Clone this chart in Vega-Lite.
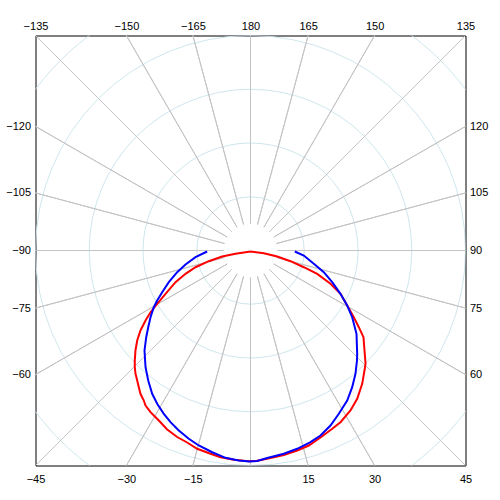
{
  "$schema": "https://vega.github.io/schema/vega-lite/v6.json",
  "width": 430,
  "height": 430,
  "autosize": {"type": "none"},
  "padding": {"left": 35.5, "top": 35.5, "right": 34.5, "bottom": 34.5},
  "background": "white",
  "config": {
    "view": {"stroke": "black", "strokeWidth": 1},
    "axis": {"labelFont": "Liberation Sans", "labelFontSize": 11, "labelColor": "black", "domain": false, "ticks": false, "grid": false, "title": null, "labelFlush": false, "labelOverlap": false, "labelBound": false}
  },
  "datasets": {
    "rings": [{"r": 10}, {"r": 20}, {"r": 30}, {"r": 40}, {"r": 50}],
    "rays": [{"a": -165}, {"a": -150}, {"a": -135}, {"a": -120}, {"a": -105}, {"a": -90}, {"a": -75}, {"a": -60}, {"a": -45}, {"a": -30}, {"a": -15}, {"a": 0}, {"a": 15}, {"a": 30}, {"a": 45}, {"a": 60}, {"a": 75}, {"a": 90}, {"a": 105}, {"a": 120}, {"a": 135}, {"a": 150}, {"a": 165}, {"a": 180}],
    "red": [
      {"i": 0, "x": 0, "y": -0.19}, {"i": 1, "x": -2.79, "y": -0.61}, {"i": 2, "x": -5.27, "y": -1.12}, {"i": 3, "x": -7.76, "y": -1.99},
      {"i": 4, "x": -10.23, "y": -3.11}, {"i": 5, "x": -12.09, "y": -4.34}, {"i": 6, "x": -13.95, "y": -5.9}, {"i": 7, "x": -15.81, "y": -8.06},
      {"i": 8, "x": -17.36, "y": -9.92}, {"i": 9, "x": -18.6, "y": -11.48}, {"i": 10, "x": -19.53, "y": -13.02}, {"i": 11, "x": -20.47, "y": -14.88},
      {"i": 12, "x": -21.08, "y": -16.74}, {"i": 13, "x": -21.4, "y": -18.6}, {"i": 14, "x": -21.53, "y": -20.47}, {"i": 15, "x": -21.53, "y": -21.71},
      {"i": 16, "x": -21.4, "y": -22.88}, {"i": 17, "x": -21.08, "y": -24.19}, {"i": 18, "x": -20.78, "y": -25.43}, {"i": 19, "x": -20.47, "y": -26.66},
      {"i": 20, "x": -19.85, "y": -27.91}, {"i": 21, "x": -19.53, "y": -28.84}, {"i": 22, "x": -18.6, "y": -30.08}, {"i": 23, "x": -17.06, "y": -31.63},
      {"i": 24, "x": -15.5, "y": -33.3}, {"i": 25, "x": -13.64, "y": -34.7}, {"i": 26, "x": -11.78, "y": -35.72}, {"i": 27, "x": -9.92, "y": -36.89},
      {"i": 28, "x": -7.44, "y": -37.82}, {"i": 29, "x": -5.58, "y": -38.46}, {"i": 30, "x": -3.11, "y": -38.94}, {"i": 31, "x": -0.32, "y": -39.2},
      {"i": 32, "x": 1.25, "y": -39.13}, {"i": 33, "x": 3.72, "y": -38.6}, {"i": 34, "x": 6.2, "y": -38.05}, {"i": 35, "x": 8.69, "y": -37.21},
      {"i": 36, "x": 10.85, "y": -36.28}, {"i": 37, "x": 13.02, "y": -34.79}, {"i": 38, "x": 15.2, "y": -33.17}, {"i": 39, "x": 16.74, "y": -31.94},
      {"i": 40, "x": 18.6, "y": -29.77}, {"i": 41, "x": 19.85, "y": -27.59}, {"i": 42, "x": 20.78, "y": -24.8}, {"i": 43, "x": 21.21, "y": -22.33},
      {"i": 44, "x": 21.4, "y": -21.02}, {"i": 45, "x": 21.21, "y": -18.6}, {"i": 46, "x": 21.02, "y": -16.13}, {"i": 47, "x": 20.15, "y": -14.27},
      {"i": 48, "x": 19.22, "y": -12.41}, {"i": 49, "x": 17.99, "y": -10.23}, {"i": 50, "x": 16.74, "y": -8.06}, {"i": 51, "x": 14.88, "y": -6.2},
      {"i": 52, "x": 12.41, "y": -4.34}, {"i": 53, "x": 9.92, "y": -3.11}, {"i": 54, "x": 7.44, "y": -1.99}, {"i": 55, "x": 4.97, "y": -1.12},
      {"i": 56, "x": 2.47, "y": -0.5}, {"i": 57, "x": 0, "y": -0.19}
    ],
    "blue": [
      {"i": 0, "x": -8.06, "y": -0.19}, {"i": 1, "x": -10.23, "y": -1.25}, {"i": 2, "x": -12.09, "y": -2.6}, {"i": 3, "x": -13.64, "y": -4.04},
      {"i": 4, "x": -15.2, "y": -5.9}, {"i": 5, "x": -16.43, "y": -7.76}, {"i": 6, "x": -17.36, "y": -9.3}, {"i": 7, "x": -17.99, "y": -10.55},
      {"i": 8, "x": -18.6, "y": -12.41}, {"i": 9, "x": -19.03, "y": -14.27}, {"i": 10, "x": -19.4, "y": -16.13}, {"i": 11, "x": -19.72, "y": -18.6},
      {"i": 12, "x": -19.53, "y": -21.71}, {"i": 13, "x": -19.03, "y": -24.19}, {"i": 14, "x": -18.29, "y": -26.66}, {"i": 15, "x": -17.36, "y": -28.52},
      {"i": 16, "x": -16.13, "y": -30.38}, {"i": 17, "x": -14.88, "y": -31.94}, {"i": 18, "x": -13.34, "y": -33.49}, {"i": 19, "x": -11.48, "y": -35.03},
      {"i": 20, "x": -9.62, "y": -36.28}, {"i": 21, "x": -7.13, "y": -37.53}, {"i": 22, "x": -4.65, "y": -38.57}, {"i": 23, "x": -2.18, "y": -39.07},
      {"i": 24, "x": -0.19, "y": -39.24}, {"i": 25, "x": 1.25, "y": -39.16}, {"i": 26, "x": 3.11, "y": -38.6}, {"i": 27, "x": 6.2, "y": -37.82},
      {"i": 28, "x": 8.69, "y": -36.89}, {"i": 29, "x": 11.16, "y": -35.66}, {"i": 30, "x": 13.02, "y": -34.42}, {"i": 31, "x": 14.88, "y": -32.56},
      {"i": 32, "x": 16.43, "y": -30.38}, {"i": 33, "x": 17.99, "y": -27.91}, {"i": 34, "x": 18.92, "y": -25.43}, {"i": 35, "x": 19.53, "y": -22.94},
      {"i": 36, "x": 19.81, "y": -20.47}, {"i": 37, "x": 19.85, "y": -19.22}, {"i": 38, "x": 19.72, "y": -15.5}, {"i": 39, "x": 18.92, "y": -12.41},
      {"i": 40, "x": 17.99, "y": -10.23}, {"i": 41, "x": 16.74, "y": -8.06}, {"i": 42, "x": 15.2, "y": -5.9}, {"i": 43, "x": 13.64, "y": -4.04},
      {"i": 44, "x": 11.78, "y": -2.47}, {"i": 45, "x": 9.92, "y": -0.93}, {"i": 46, "x": 8.24, "y": -0.19}
    ]
  },
  "layer": [
    {
      "data": {"name": "rings"},
      "mark": {"type": "arc", "filled": false, "stroke": "#cfe6ee", "strokeWidth": 1, "theta": 0, "theta2": 6.2832, "clip": true},
      "encoding": {
        "radius": {"field": "r", "type": "quantitative", "stack": null, "scale": {"type": "linear", "domain": [0, 40], "range": [0, 215], "zero": true}}
      }
    },
    {
      "data": {"name": "rays"},
      "mark": {"type": "arc", "filled": false, "stroke": "#c4c4c4", "strokeWidth": 1, "clip": true},
      "encoding": {
        "theta": {"field": "a", "type": "quantitative", "stack": null, "scale": {"domain": [180, -180], "range": [0, 6.283185307]}},
        "theta2": {"field": "a"},
        "radius": {"datum": 60, "type": "quantitative", "scale": {"type": "linear", "domain": [0, 40], "range": [0, 215], "zero": true}},
        "radius2": {"datum": 5}
      }
    },
    {
      "mark": {"type": "rect", "filled": false, "stroke": "black", "strokeWidth": 1, "clip": false},
      "encoding": {
        "x": {"datum": -46.51, "type": "quantitative", "scale": {"domain": [-40, 40], "nice": false, "zero": false},
          "axis": {"orient": "top", "values": [-40, -23.094, -10.718, 0, 10.718, 23.094, 40], "labelPadding": 4,
            "labelExpr": "datum.value == 0 ? '180' : format((datum.value > 0 ? 180 : -180) - round(atan(datum.value/40)*180/PI), 'd')"}},
        "x2": {"datum": 46.33},
        "y": {"datum": 46.51, "type": "quantitative", "scale": {"domain": [-40, 40], "nice": false, "zero": false},
          "axis": {"orient": "right", "values": [23.094, 10.718, 0, -10.718, -23.094], "labelPadding": 4,
            "labelExpr": "format(round(90 + atan(datum.value/40)*180/PI), 'd')"}},
        "y2": {"datum": -46.33}
      }
    },
    {
      "data": {"name": "red"},
      "mark": {"type": "line", "color": "#ff0000", "strokeWidth": 2},
      "encoding": {
        "x": {"field": "x", "type": "quantitative", "scale": {"domain": [-40, 40], "nice": false, "zero": false},
          "axis": {"orient": "bottom", "values": [-40, -23.094, -10.718, 10.718, 23.094, 40], "labelPadding": 8,
            "labelExpr": "format(round(atan(datum.value/40)*180/PI), 'd')"}},
        "y": {"field": "y", "type": "quantitative", "scale": {"domain": [-40, 40], "nice": false, "zero": false},
          "axis": {"orient": "left", "values": [23.094, 10.718, 0, -10.718, -23.094], "labelPadding": 5,
            "labelExpr": "format(round(-90 - atan(datum.value/40)*180/PI), 'd')"}},
        "order": {"field": "i"}
      }
    },
    {
      "data": {"name": "blue"},
      "mark": {"type": "line", "color": "#0000ff", "strokeWidth": 2},
      "encoding": {
        "x": {"field": "x", "type": "quantitative", "scale": {"domain": [-40, 40], "nice": false, "zero": false}, "axis": null},
        "y": {"field": "y", "type": "quantitative", "scale": {"domain": [-40, 40], "nice": false, "zero": false}, "axis": null},
        "order": {"field": "i"}
      }
    }
  ],
  "resolve": {"axis": {"x": "independent", "y": "independent"}}
}
